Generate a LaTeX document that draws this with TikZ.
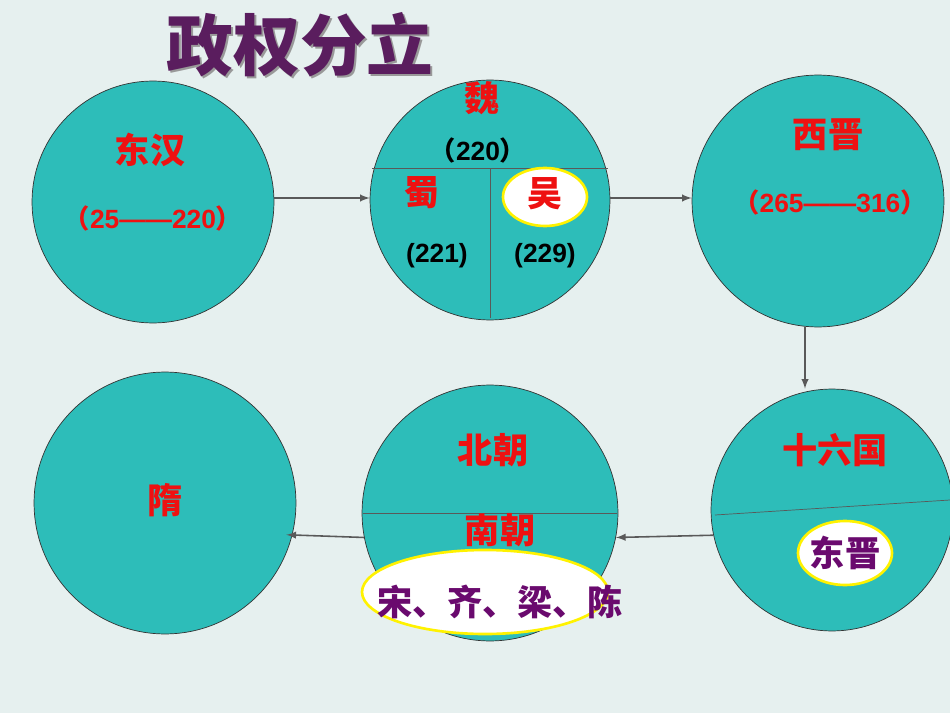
\documentclass[tikz,border=0pt]{standalone}
\usepackage{fontspec}
\usetikzlibrary{shapes.geometric}
\setmainfont{Liberation Sans}
\newfontfamily\cjk{Noto Sans CJK SC}
\newcommand{\lp}{{\cjk （}}
\newcommand{\rp}{{\cjk ）}}
\definecolor{bgcol}{HTML}{E6F0EF}
\definecolor{ballcol}{HTML}{2DBDB9}
\definecolor{titlecol}{HTML}{5A1D5E}
\definecolor{dynred}{HTML}{EE1111}
\definecolor{dynpurple}{HTML}{6A0A6E}
\begin{document}
\begin{tikzpicture}[
    x=0.02cm, y=-0.02cm,
    ball/.style={circle, draw=black!80, fill=ballcol, minimum size=#1*0.04cm, inner sep=0pt},
    tag/.style={text=dynred, font=\cjk\bfseries\fontsize{20}{22}\selectfont},
    year/.style={text=dynred, font=\bfseries\fontsize{15}{17}\selectfont},
    blackyear/.style={text=black, font=\bfseries\fontsize{15}{17}\selectfont},
    badge/.style={ellipse, draw=yellow, line width=1.5pt, fill=white, inner sep=0pt},
    line/.style={draw, gray!70!black, line width=0.9pt, -latex}
]
\fill[bgcol] (0,0) rectangle (950,713);
\useasboundingbox (0,0) rectangle (950,713);

% title
\node[text=black!40, font=\cjk\bfseries\fontsize{38}{40}\selectfont] at (302,47) {政权分立};
\node (title) [text=titlecol, font=\cjk\bfseries\fontsize{38}{40}\selectfont] at (300,45) {政权分立};

% circles
\node (donghan) [ball=121] at (153,202) {};
\node (wei) [ball=120] at (490,200) {};
\node (xijin) [ball=126] at (818,201) {};
\node (sui) [ball=131] at (165,503) {};
\node (beichao) [ball=128] at (490,513) {};
\begin{scope}
\clip (0,0) rectangle (950,713);
\node (shiliu) [ball=121] at (832,510) {};
\end{scope}

% dividers
\draw[gray!70!black] (372,168) -- (608,168);
\draw[gray!70!black] (490,168) -- (490,318);
\draw[gray!70!black] (363,513) -- (617,513);
\draw[gray!70!black] (715,515) -- (950,500);

% badges
\node (wu) [badge, minimum width=84*0.02cm, minimum height=58*0.02cm] at (545,197) {};
\node (dongjin) [badge, minimum width=94*0.02cm, minimum height=64*0.02cm] at (845,553) {};
\node (nanchao_list) [badge, minimum width=246*0.02cm, minimum height=84*0.02cm] at (485,592) {};

% labels
\node (donghan_name) [tag] at (150,150) {东汉};
\node (donghan_year) [year] at (153,218) {\lp 25——220\rp};
\node (wei_name) [tag] at (482,98) {魏};
\node (wei_year) [blackyear] at (478,150) {\lp 220\rp};
\node (shu_name) [tag] at (422,193) {蜀};
\node (shu_year) [blackyear] at (437,256) {(221)};
\node (wu_name) [tag] at (545,194) {吴};
\node (wu_year) [blackyear] at (545,256) {(229)};
\node (xijin_name) [tag] at (828,135) {西晋};
\node (xijin_year) [year] at (830,202) {\lp 265——316\rp};
\node (sui_name) [tag] at (165,500) {隋};
\node (beichao_name) [tag] at (493,450) {北朝};
\node (nanchao_name) [tag] at (500,530) {南朝};
\node (list_text) [text=dynpurple, font=\cjk\bfseries\fontsize{20}{22}\selectfont] at (500,602) {宋、齐、梁、陈};
\node (shiliu_name) [tag] at (835,450) {十六国};
\node (dongjin_name) [text=dynpurple, font=\cjk\bfseries\fontsize{20}{22}\selectfont] at (845,553) {东晋};

% arrows
\draw [line] (donghan.east |- 0,198) -- (wei.west |- 0,198);
\draw [line] (wei.east |- 0,198) -- (xijin.west |- 0,198);
\draw [line] (xijin.south -| 805,0) -- (shiliu.north -| 805,0);
\draw [line] (shiliu.192) -- (beichao.-11.7);
\draw [line] (beichao.191.7) -- ([xshift=-0.12cm]sui.-14.6);
\end{tikzpicture}
\end{document}
